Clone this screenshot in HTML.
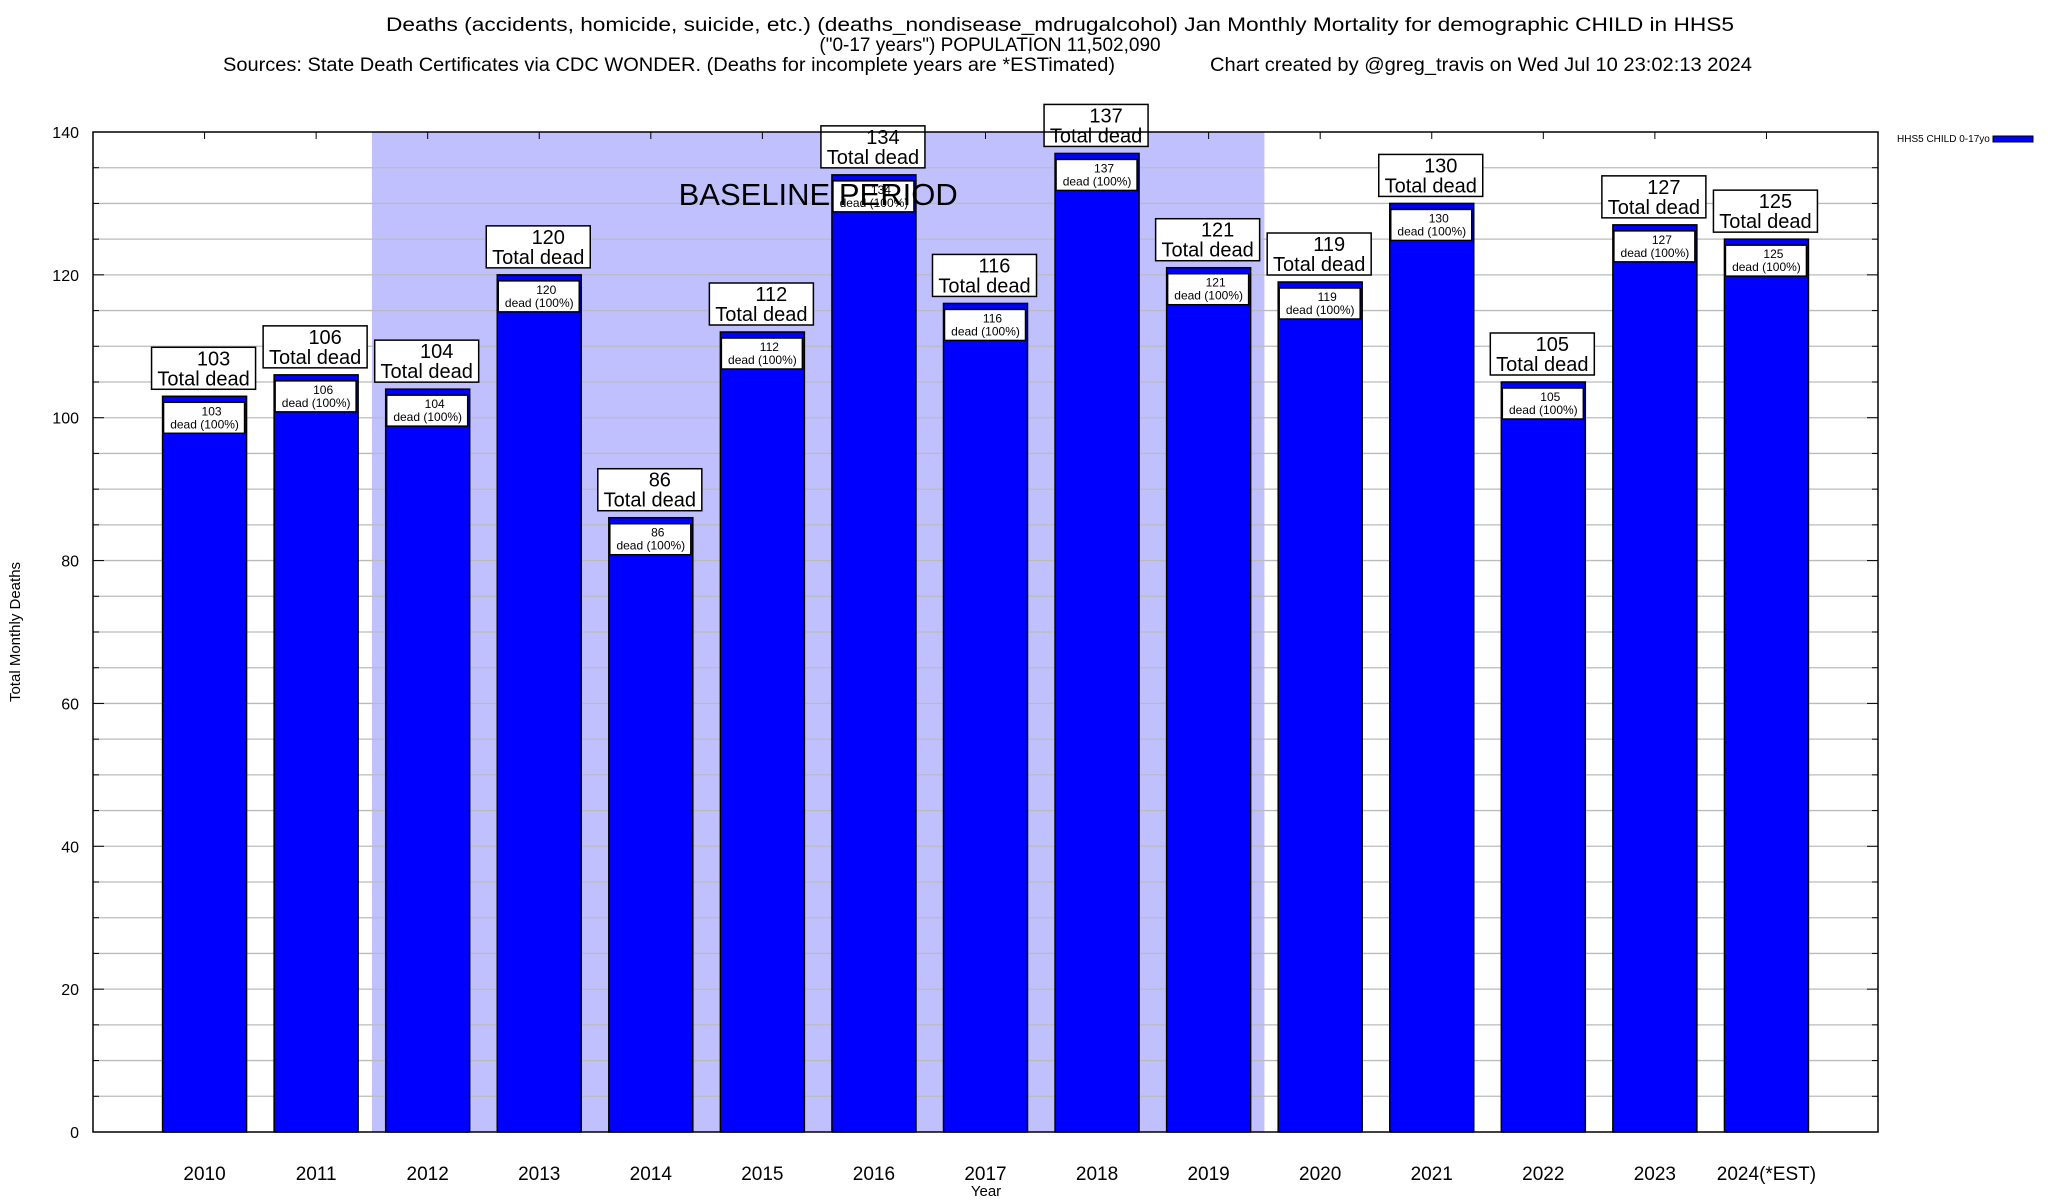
<!DOCTYPE html>
<html><head><meta charset="utf-8"><style>
html,body{margin:0;padding:0;background:#fff}
svg{display:block;font-family:"Liberation Sans",Arial,sans-serif}
</style></head><body>
<svg id="chart" width="2048" height="1200" viewBox="0 0 2048 1200" xmlns="http://www.w3.org/2000/svg">
<g>
<text x="1060" y="31" font-size="19" text-anchor="middle" textLength="1348" lengthAdjust="spacingAndGlyphs">Deaths (accidents, homicide, suicide, etc.) (deaths_nondisease_mdrugalcohol) Jan Monthly Mortality for demographic CHILD in HHS5</text>
<text x="990" y="51" font-size="19" text-anchor="middle">("0-17 years") POPULATION 11,502,090</text>
<text x="223" y="71" font-size="19" textLength="892" lengthAdjust="spacingAndGlyphs">Sources: State Death Certificates via CDC WONDER. (Deaths for incomplete years are *ESTimated)</text>
<text x="1210" y="71" font-size="19" textLength="542" lengthAdjust="spacingAndGlyphs">Chart created by @greg_travis on Wed Jul 10 23:02:13 2024</text>
</g>
<g id="plot"></g>
<text transform="translate(20,632) rotate(-90)" font-size="15" text-anchor="middle">Total Monthly Deaths</text>
<text x="986" y="1196" font-size="15" text-anchor="middle">Year</text>
<g>
<text x="1897" y="142" font-size="10">HHS5 CHILD 0-17yo</text>
<rect x="1993" y="136" width="40" height="6" fill="#0000ff" stroke="#000" stroke-width="1"/>
</g>
</svg>
<script>
const categories = ["2010","2011","2012","2013","2014","2015","2016","2017","2018","2019","2020","2021","2022","2023","2024(*EST)"];
const values = [103,106,104,120,86,112,134,116,137,121,119,130,105,127,125];
const yTicks = [0,20,40,60,80,100,120,140];
const baselineStart = 1; const baselineEnd = 9;

const NS="http://www.w3.org/2000/svg";
const L=93,R=1878,T=132,B=1132,YMAX=140;
const slot=(R-L)/(categories.length+1);
const xC=i=>L+slot*(i+1);
const y=v=>B-(v/YMAX)*(B-T);
const g=document.getElementById('plot');
function mk(tag,attrs,parent){const e=document.createElementNS(NS,tag);for(const k in attrs)e.setAttribute(k,attrs[k]);(parent||g).appendChild(e);return e;}

let e=mk('rect',{x:xC(baselineStart)+slot/2,y:T,width:(baselineEnd-baselineStart)*slot,height:B-T,fill:'#c0c0ff'});


for(let v=5;v<YMAX;v+=5){
  e=mk('line',{x1:L,x2:R,y1:y(v),y2:y(v),stroke:'#bbb','stroke-width':1.3});
  
  
  mk('line',{x1:L,x2:L+(v%20?6:11),y1:y(v),y2:y(v),stroke:'#000'});
  mk('line',{x1:R,x2:R-(v%20?6:11),y1:y(v),y2:y(v),stroke:'#000'});
}
yTicks.forEach(v=>{
  const t=mk('text',{x:L-14,y:y(v)+6,'font-size':16,'text-anchor':'end'});t.textContent=v;
  
  
});
const bw=84;
categories.forEach((c,i)=>{
  const cx=xC(i),v=values[i];
  mk('line',{x1:cx,x2:cx,y1:T,y2:T+7,stroke:'#000'});
  mk('line',{x1:cx,x2:cx,y1:B,y2:B-7,stroke:'#000'});
  const b=mk('rect',{x:cx-bw/2,y:y(v),width:bw,height:B-y(v),fill:'#0000ff',stroke:'#000','stroke-width':1.5});
  
  
  const ib=mk('rect',{x:cx-bw/2+1,y:y(v)+6,width:bw-3,height:31,fill:'#fff',stroke:'#000','stroke-width':1.5});
  
  
  let t=mk('text',{x:cx+7,y:y(v)+19,'font-size':12,'text-anchor':'middle'});t.textContent=v;
  
  
  t=mk('text',{x:cx,y:y(v)+32,'font-size':12,'text-anchor':'middle'});t.textContent='dead (100%)';
  
  
  const ob=mk('rect',{x:cx-53,y:y(v)-49,width:104,height:42,fill:'#fff',stroke:'#000','stroke-width':1.5});
  
  
  t=mk('text',{x:cx+9,y:y(v)-31,'font-size':20,'text-anchor':'middle'});t.textContent=v;
  
  
  t=mk('text',{x:cx-1,y:y(v)-11,'font-size':20,'text-anchor':'middle'});t.textContent='Total dead';
  
  
  t=mk('text',{x:cx,y:1180,'font-size':19,'text-anchor':'middle'});t.textContent=c;
  
  
});
e=mk('text',{x:xC(baselineStart)+slot/2+(baselineEnd-baselineStart)*slot/2,y:205,'font-size':31,'text-anchor':'middle'});
e.textContent='BASELINE PERIOD';


e=mk('rect',{x:L,y:T,width:R-L,height:B-T,fill:'none',stroke:'#000','stroke-width':1.5});


</script>
</body></html>
